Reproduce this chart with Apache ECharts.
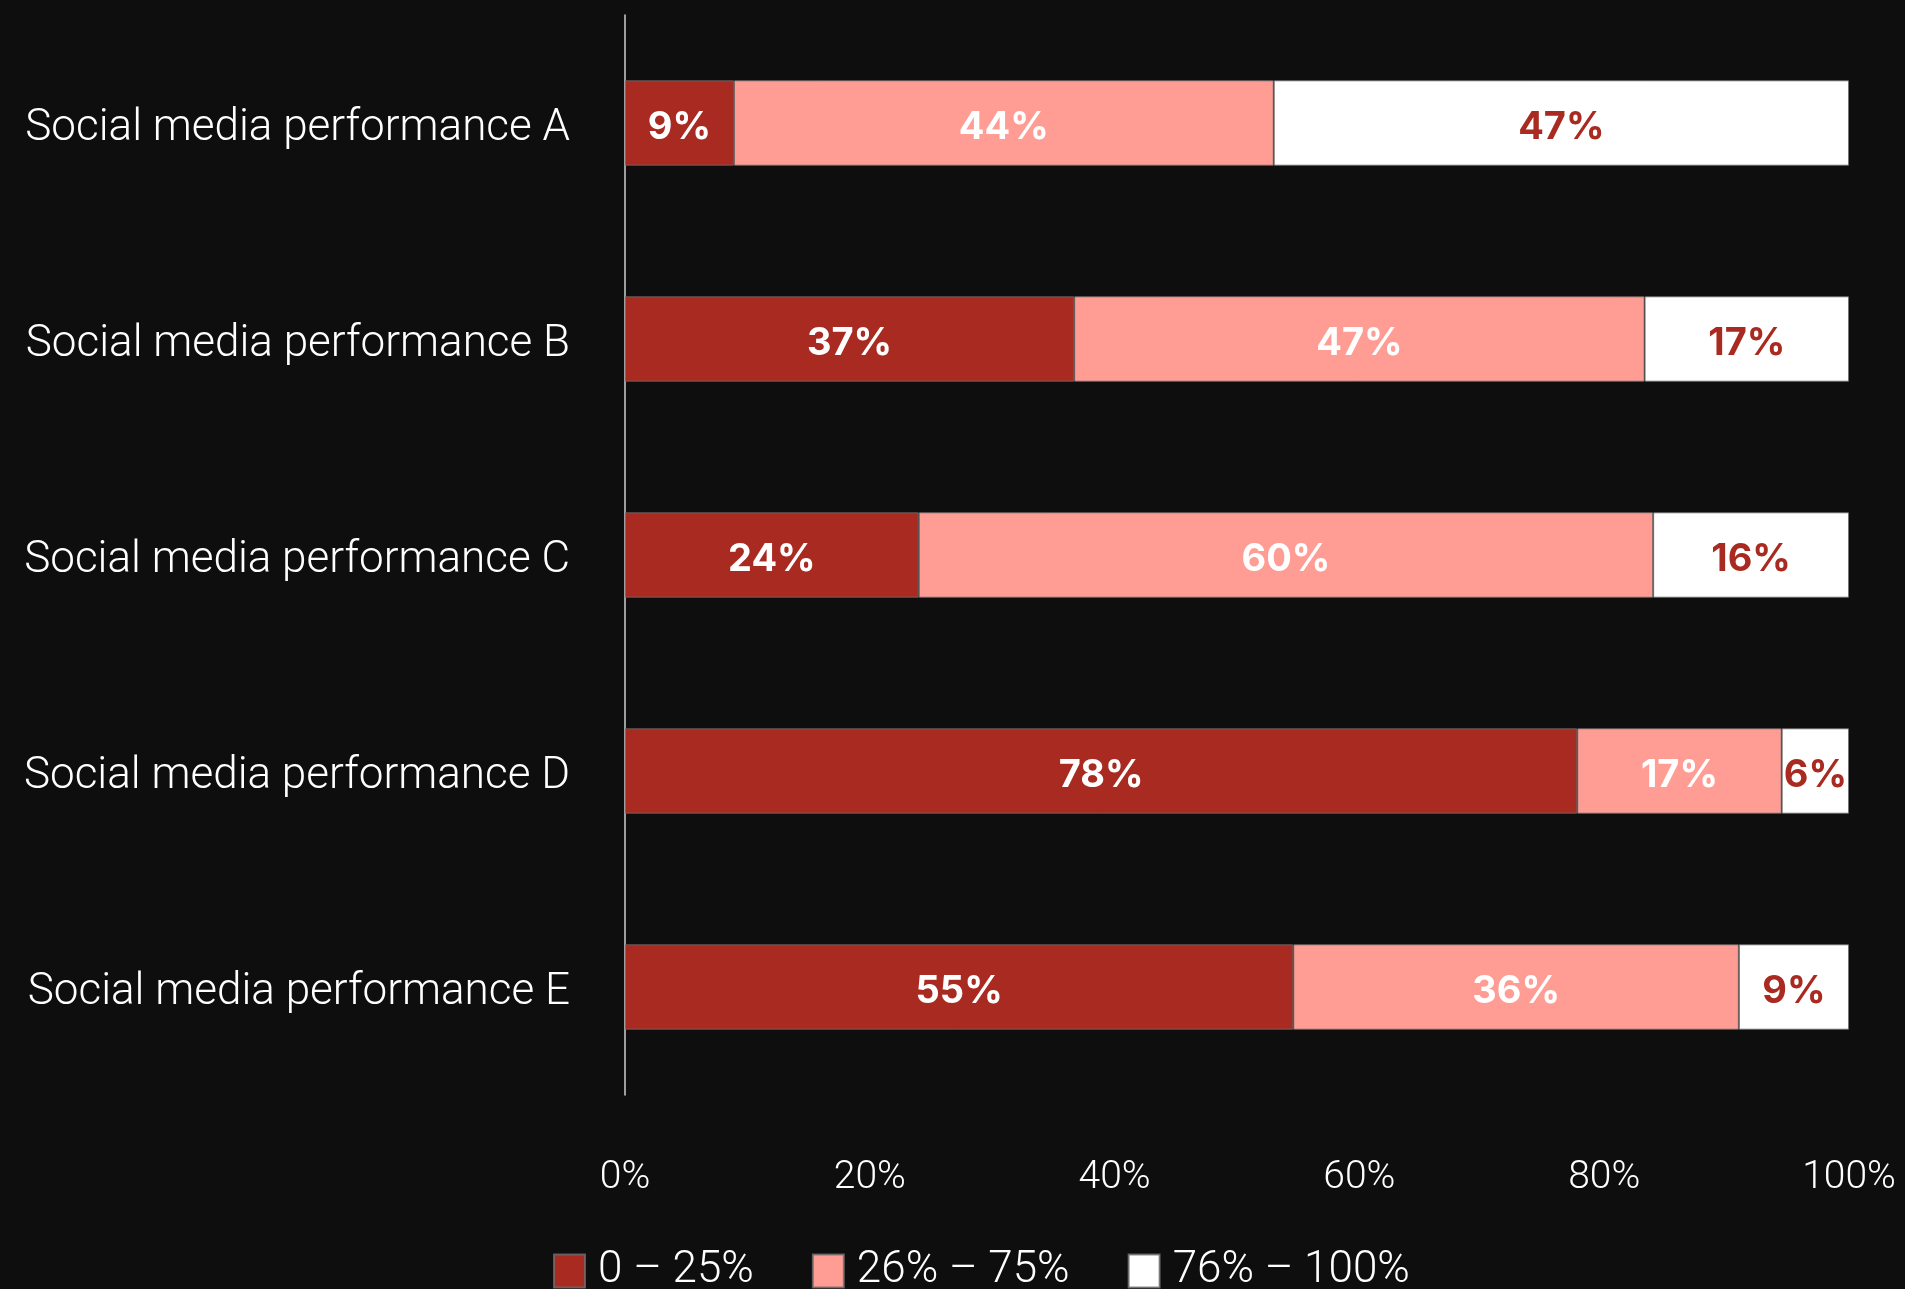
<!DOCTYPE html>
<html>
<head>
<meta charset="utf-8">
<script src="https://cdn.jsdelivr.net/npm/echarts@6/dist/echarts.min.js"></script>
<style>
html,body{margin:0;padding:0;background:#0e0e0e;}
#chart{width:1905px;height:1289px;}
</style>
</head>
<body>
<div id="chart"></div>
<script>
const categories = ['Social media performance A','Social media performance B','Social media performance C','Social media performance D','Social media performance E'];
const seriesNames = ['0 – 25%','26% – 75%','76% – 100%'];
const low = [8.9, 36.7, 24.0, 77.8, 54.6];
const mid = [44.1, 46.6, 60.0, 16.7, 36.4];
const high = [47.0, 16.7, 16.0, 5.5, 9.0];
const tickLabels = ['0%','20%','40%','60%','80%','100%'];

const colors = ['#a82a20', '#ff9d95', '#ffffff'];
const labelColors = ['#ffffff', '#ffffff', '#a82a20'];
const values = [low, mid, high];

const chart = echarts.init(document.getElementById('chart'));
chart.setOption({
  backgroundColor: '#0e0e0e',
  animation: false,
  grid: {left: 625, right: 56, top: 15, bottom: 194, containLabel: false},
  legend: {
    left: 548, top: 1244,
    icon: 'rect', itemWidth: 31, itemHeight: 33, itemGap: 58,
    textStyle: {color: '#ffffff', fontFamily: 'Roboto', fontWeight: 300, fontSize: 44, padding: [4,0,0,8]},
    data: seriesNames
  },
  xAxis: {
    type: 'value', min: 0, max: 100, interval: 20,
    axisLine: {show: false}, axisTick: {show: false}, splitLine: {show: false},
    axisLabel: {
      color: '#ffffff', fontFamily: 'Roboto', fontWeight: 300, fontSize: 39, margin: 64,
      formatter: function (v) { return tickLabels[Math.round(v / 20)]; }
    }
  },
  yAxis: {
    type: 'category', data: categories, inverse: true,
    axisLine: {show: true, lineStyle: {color: '#cfcfcf', width: 1.5}},
    axisTick: {show: false},
    axisLabel: {
      color: '#ffffff', fontFamily: 'Roboto', fontWeight: 300, fontSize: 44, margin: 55,
      formatter: function (v) { return '{c|' + v + '}'; },
      rich: {c: {color: '#ffffff', fontFamily: 'Roboto', fontWeight: 300, fontSize: 44, padding: [12, 0, 0, 0]}}
    }
  },
  series: values.map(function (arr, i) {
    return {
      name: seriesNames[i], type: 'bar', stack: 'total', barWidth: '39.5%',
      data: arr,
      itemStyle: {color: colors[i], borderColor: 'rgba(110,110,110,0.8)', borderWidth: 1},
      label: {
        show: true, position: 'inside', color: labelColors[i], offset: [0, 5],
        fontFamily: 'Inter', fontWeight: 700, fontSize: 38,
        formatter: function (p) { return Math.round(p.value) + '%'; }
      }
    };
  })
});
</script>
</body>
</html>
